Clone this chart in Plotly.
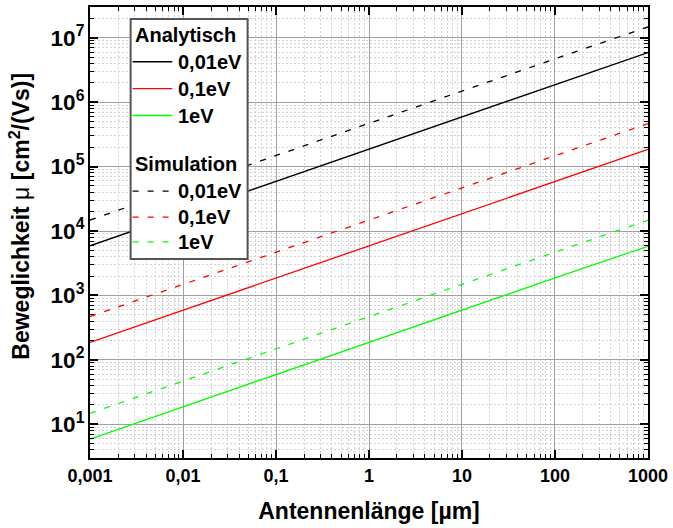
import plotly.graph_objects as go

# Antenna length [µm]
laenge = [0.001, 0.01, 0.1, 1, 10, 100, 1000]

# Mobility values [cm^2/(Vs)]
analytisch_001 = [5.9e3, 1.87e4, 5.9e4, 1.87e5, 5.9e5, 1.87e6, 5.9e6]
analytisch_01 = [187, 590, 1.87e3, 5.9e3, 1.87e4, 5.9e4, 1.85e5]
analytisch_1 = [5.9, 18.7, 59, 187, 590, 1.87e3, 5.8e3]
simulation_001 = [1.48e4, 4.7e4, 1.48e5, 4.7e5, 1.48e6, 4.7e6, 1.47e7]
simulation_01 = [470, 1.48e3, 4.7e3, 1.48e4, 4.7e4, 1.48e5, 4.65e5]
simulation_1 = [14.8, 47, 148, 470, 1.48e3, 4.7e3, 1.47e4]

energie_labels = ["0,01eV", "0,1eV", "1eV"]
gruppen = ["Analytisch", "Simulation"]
farben = ["#000000", "#ff0000", "#00ff00"]

x_alias = {"0.001": "0,001", "0.01": "0,01", "0.1": "0,1", "1k": "1000", "1.000": "1000", "1,000": "1000"}
y_alias = {"10": "10<sup>1</sup>"}

FONT = "Liberation Sans, Arial, sans-serif"
DASH = "6px,9px"

# plot-area geometry (pixels) for placing the legend box
W, H = 673, 528
ML, MR, MT, MB = 90, 20, 5, 70
PW, PH = W - ML - MR, H - MT - MB


def px(xp):
    return (xp - ML) / PW


def py(yp):
    return (H - MB - yp) / PH


fig = go.Figure()
series = [
    (analytisch_001, 0, "solid"), (analytisch_01, 1, "solid"), (analytisch_1, 2, "solid"),
    (simulation_001, 0, DASH), (simulation_01, 1, DASH), (simulation_1, 2, DASH),
]
for i, (ys, ci, dash) in enumerate(series):
    fig.add_trace(go.Scatter(
        x=laenge, y=ys, mode="lines",
        name=gruppen[i // 3] + " " + energie_labels[ci],
        line=dict(color=farben[ci], width=1.3, dash=dash),
        showlegend=False,
    ))

axis_common = dict(
    type="log",
    showline=True, linecolor="black", linewidth=2, mirror="allticks",
    ticks="inside", ticklen=8, tickwidth=1.5, tickcolor="black",
    showgrid=True, gridcolor="#a0a0a0", gridwidth=1,
    zeroline=False,
    tickmode="linear", dtick=1, tick0=0,
    ticklabeloverflow="allow",
    tickfont=dict(family=FONT, size=18, color="black", weight="bold"),
    minor=dict(dtick="D1", ticks="inside", ticklen=4, tickwidth=1, tickcolor="black",
               showgrid=True, gridcolor="#d2d2d2", griddash="2px,2px", gridwidth=1),
)

fig.update_xaxes(
    **axis_common,
    range=[-3.0002, 3.0002],
    exponentformat="none",
    labelalias=x_alias,
    title=dict(text="Antennenlänge [µm]", font=dict(family=FONT, size=23, color="black", weight="bold"), standoff=18),
)
fig.update_yaxes(
    **axis_common,
    range=[0.477, 7.477],
    exponentformat="power", showexponent="all",
    labelalias=y_alias,
)

# y-axis title
fig.add_annotation(
    xref="paper", yref="paper", x=px(19), y=py(215), xanchor="center", yanchor="middle",
    textangle=-90, showarrow=False,
    text="Beweglichkeit <span style=\"font-weight:normal\">μ</span> [cm<sup>2</sup>/(Vs)]",
    font=dict(family=FONT, size=23, color="black", weight="bold"),
)

# legend box
fig.add_shape(type="rect", xref="paper", yref="paper", x0=px(131), x1=px(249), y0=py(17), y1=py(258),
              fillcolor="white", line=dict(color="#555555", width=2), layer="above")
legend_font = dict(family=FONT, size=20, color="black", weight="bold")
head_y = [33, 163]
row_y = [[60, 87, 114], [190, 216, 241]]
for g in range(2):
    fig.add_annotation(xref="paper", yref="paper", x=px(133), y=py(head_y[g]), xanchor="left", yanchor="middle",
                       showarrow=False, text=gruppen[g], font=legend_font)
    for ci in range(3):
        yy = py(row_y[g][ci])
        fig.add_shape(type="line", xref="paper", yref="paper", x0=px(133), x1=px(173), y0=yy, y1=yy,
                      line=dict(color=farben[ci], width=1.3, dash="solid" if g == 0 else DASH), layer="above")
        fig.add_annotation(xref="paper", yref="paper", x=px(177), y=yy, xanchor="left", yanchor="middle",
                           showarrow=False, text=energie_labels[ci], font=legend_font)

fig.update_layout(
    width=W, height=H,
    margin=dict(l=ML, r=MR, t=MT, b=MB),
    paper_bgcolor="white", plot_bgcolor="white",
    separators=",.",
    font=dict(family=FONT, color="black"),
    showlegend=False,
)

fig.write_html("out.html")
